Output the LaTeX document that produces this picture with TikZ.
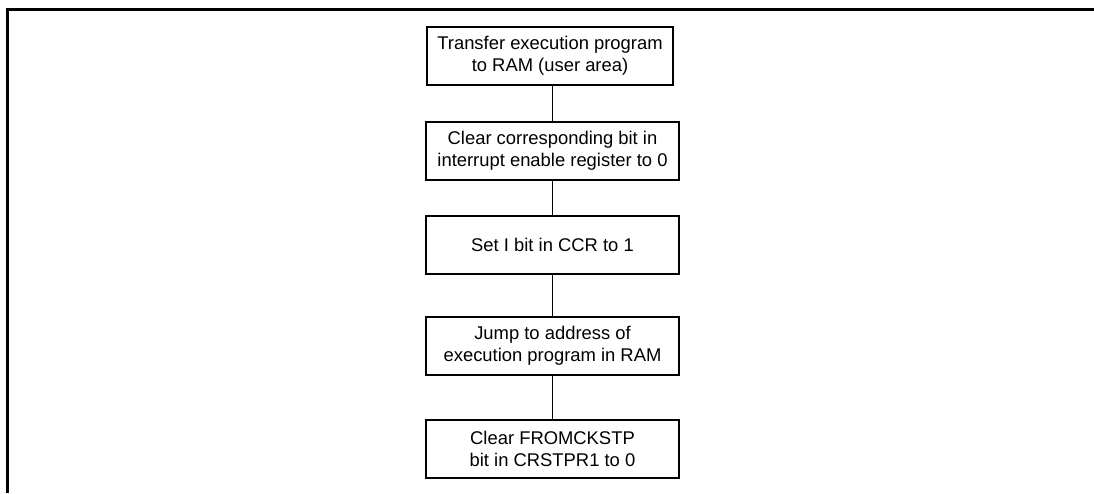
\documentclass[tikz,border=0pt]{standalone}
\usepackage{fontspec}
\setmainfont{Liberation Sans}
\usetikzlibrary{positioning}
\tikzset{
	stepbox/.style={rectangle, draw=black, line width=2pt, minimum width=253pt, minimum height=58pt, align=center, inner sep=2pt, font=\fontsize{18.4}{22}\selectfont},
	link/.style={line width=1pt},
}
\begin{document}
\begin{tikzpicture}[x=1pt, y=-1pt]
	\useasboundingbox (0,0) rectangle (1094,493);
	% frame
	\draw[line width=3pt] (7.5,493) -- (7.5,9.5) -- (1094,9.5);
	\node[stepbox, minimum width=246pt] (xfer) at (550,56) {Transfer execution program\\ to RAM (user area)};
	\node[stepbox, below=35pt of xfer, xshift=2.5pt] (clrie) {Clear corresponding bit in\\ interrupt enable register to 0};
	\node[stepbox, below=34pt of clrie] (seti) {Set I bit in CCR to 1};
	\node[stepbox, below=41pt of seti] (jump) {Jump to address of\\ execution program in RAM};
	\node[stepbox, below=43pt of jump] (clrck) {Clear FROMCKSTP\\ bit in CRSTPR1 to 0};
	\draw[link] (xfer.south -| clrie) -- (clrie.north);
	\draw[link] (clrie) -- (seti);
	\draw[link] (seti) -- (jump);
	\draw[link] (jump) -- (clrck);
\end{tikzpicture}
\end{document}
